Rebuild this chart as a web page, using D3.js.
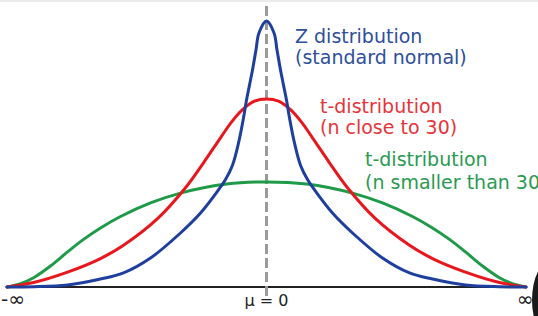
<!DOCTYPE html>
<html>
<head>
<meta charset="utf-8">
<script src="https://cdn.jsdelivr.net/npm/d3@7"></script>
<style>
  html, body { margin: 0; padding: 0; background: #fff; }
  svg { display: block; }
</style>
</head>
<body>
<svg id="chart" width="538" height="316"></svg>
<script>
// ---- data (x in standard units, y relative to the Z peak) ----
const zX = [-4, -3.59, -3.067, -2.559, -2.204, -1.788, -1.326, -1.017, -0.74, -0.632, -0.524, -0.432, -0.355, -0.308, -0.262, -0.216, -0.162, -0.116, 0, 0.116, 0.162, 0.216, 0.262, 0.308, 0.355, 0.432, 0.524, 0.632, 0.74, 1.017, 1.326, 1.788, 2.204, 2.559, 3.067, 3.59, 4];
const zY = [0, 0.001, 0.0075, 0.030, 0.053, 0.109, 0.203, 0.278, 0.365, 0.404, 0.458, 0.541, 0.635, 0.703, 0.759, 0.816, 0.891, 0.955, 1.0, 0.955, 0.891, 0.816, 0.759, 0.703, 0.635, 0.541, 0.458, 0.404, 0.365, 0.278, 0.203, 0.109, 0.053, 0.030, 0.0075, 0.001, 0];

const t30X = [-4, -3.59, -3.067, -2.559, -2.204, -1.68, -1.233, -0.971, -0.709, -0.54, -0.37, -0.185, 0, 0.185, 0.37, 0.54, 0.709, 0.971, 1.233, 1.68, 2.204, 2.559, 3.067, 3.59, 4];
const t30Y = [0, 0.017, 0.056, 0.107, 0.157, 0.257, 0.378, 0.467, 0.561, 0.620, 0.667, 0.699, 0.707, 0.699, 0.667, 0.620, 0.561, 0.467, 0.378, 0.257, 0.157, 0.107, 0.056, 0.017, 0];

const tSmallX = [-4, -3.79, -3.59, -3.33, -3.067, -2.82, -2.559, -2.25, -1.788, -1.326, -0.616, 0, 0.616, 1.326, 1.788, 2.25, 2.559, 2.82, 3.067, 3.33, 3.59, 3.79, 4];
const tSmallY = [0, 0.013, 0.035, 0.079, 0.132, 0.179, 0.222, 0.265, 0.316, 0.353, 0.387, 0.395, 0.387, 0.353, 0.316, 0.265, 0.222, 0.179, 0.132, 0.079, 0.035, 0.013, 0];

const tickLabels = ["-\u221E", "\u03BC = 0", "\u221E"];
const tickValues = [-4, 0, 4];

const labelZ = ["Z distribution", "(standard normal)"];
const labelT30 = ["t-distribution", "(n close to 30)"];
const labelTSmall = ["t-distribution", "(n smaller than 30)"];

// ---- drawing ----
const svg = d3.select("#chart");
const x = d3.scaleLinear().domain([-4, 4]).range([7, 526]);
const y = d3.scaleLinear().domain([0, 1]).range([287, 21]);

svg.append("rect").attr("x", 0).attr("y", 0).attr("width", 538).attr("height", 2).attr("fill", "#ebebeb");

// baseline axis
svg.append("line")
  .attr("x1", x(-4)).attr("x2", x(4) - 4)
  .attr("y1", y(0)).attr("y2", y(0))
  .attr("stroke", "#222").attr("stroke-width", 2);

// dashed mean line
svg.append("line")
  .attr("x1", x(0)).attr("x2", x(0))
  .attr("y1", 6).attr("y2", 296)
  .attr("stroke", "#9a9a9a").attr("stroke-width", 3)
  .attr("stroke-dasharray", "10,4");

const line = d3.line().x(d => x(d[0])).y(d => y(d[1])).curve(d3.curveCatmullRom.alpha(0.5));

const series = [
  {xs: tSmallX, ys: tSmallY, color: "#1f9a48"},
  {xs: t30X, ys: t30Y, color: "#e8171d"},
  {xs: zX, ys: zY, color: "#1f3f9f"}
];
series.forEach(s => {
  svg.append("path")
    .datum(s.xs.map((v, i) => [v, s.ys[i]]))
    .attr("d", line)
    .attr("fill", "none")
    .attr("stroke", s.color)
    .attr("stroke-width", 3)
    .attr("stroke-linecap", "round");
});

// tick labels
const fam = "'DejaVu Sans', Verdana, sans-serif";
tickValues.forEach((v, i) => {
  svg.append("text")
    .attr("x", i === 0 ? x(v) + 6 : (i === 2 ? x(v) - 1 : x(v)))
    .attr("y", 306)
    .attr("text-anchor", "middle")
    .attr("font-family", fam)
    .attr("font-size", i === 1 ? 16 : 20)
    .attr("fill", "#222")
    .text(tickLabels[i]);
});

// series labels
function label(lines, lx, ly, gap, color) {
  const t = svg.append("text")
    .attr("font-family", fam)
    .attr("font-size", 19)
    .attr("fill", color);
  lines.forEach((s, i) => {
    t.append("tspan").attr("x", lx).attr("y", ly + i * gap).text(s);
  });
}
label(labelZ, 295, 43, 20.5, "#2e4f9a");
label(labelT30, 320, 113, 20.5, "#e6343a");
label(labelTSmall, 365, 166, 23, "#2a9a52");

// dark artifact at right edge
svg.append("ellipse")
  .attr("cx", 552).attr("cy", 300).attr("rx", 20).attr("ry", 40)
  .attr("fill", "#1a1a1a");
</script>
</body>
</html>
